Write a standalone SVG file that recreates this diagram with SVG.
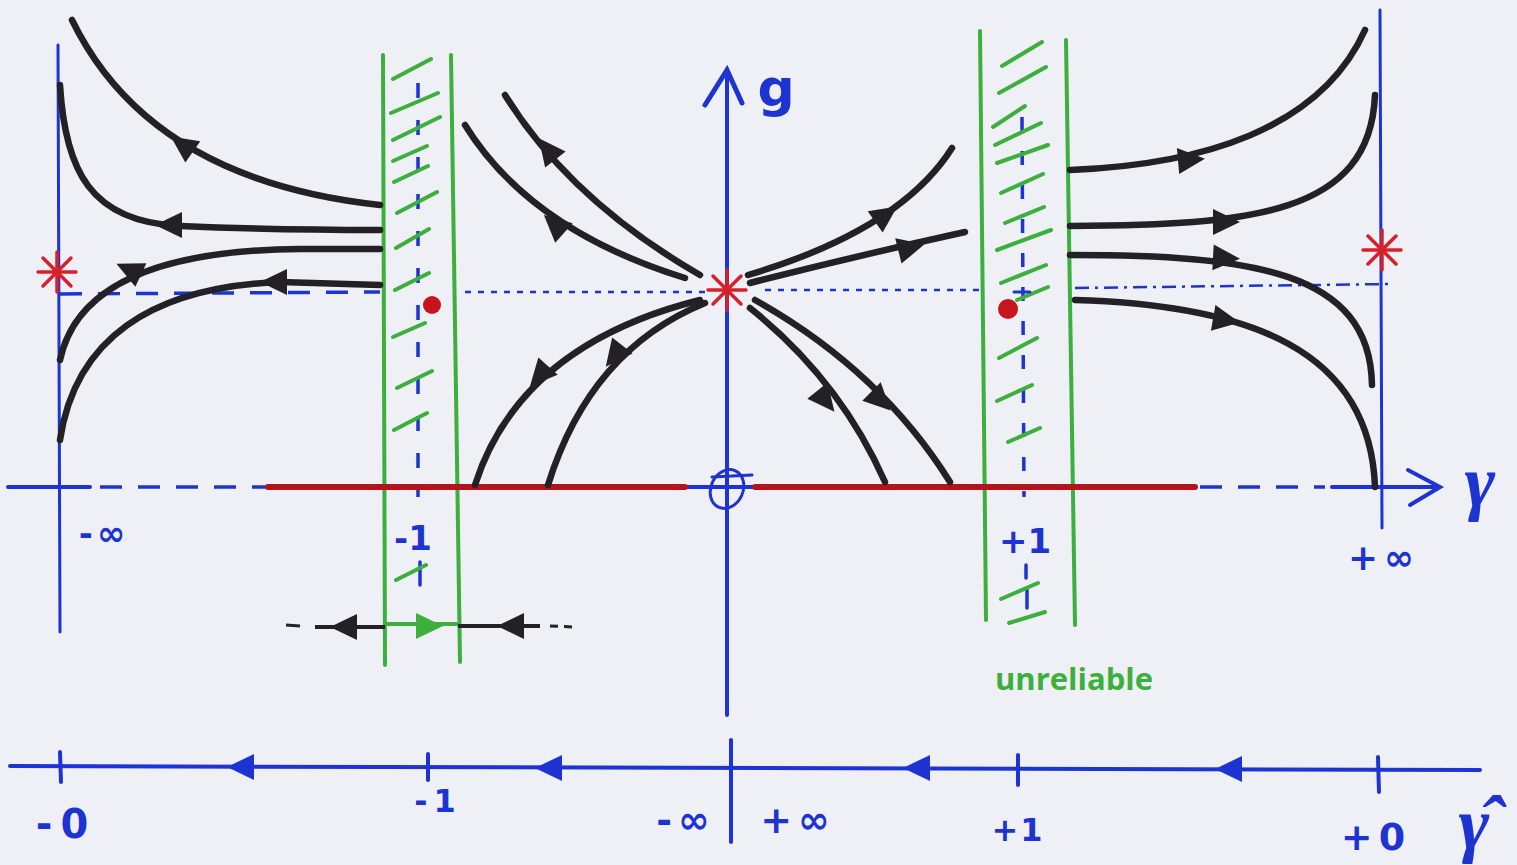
<svg xmlns="http://www.w3.org/2000/svg" xmlns:xlink="http://www.w3.org/1999/xlink" width="1517" height="865" viewBox="0 0 1517 865">
<style>
.bl{stroke:#1e34d2;fill:none;stroke-width:4;stroke-linecap:round}
.bld{stroke:#1e34d2;fill:none;stroke-width:3.5;stroke-dasharray:22 16}
.bls{stroke:#1e34d2;fill:none;stroke-width:2.5;stroke-dasharray:6 7}
.gr{stroke:#3caf3c;fill:none;stroke-width:4;stroke-linecap:round}
.gh{stroke:#3caf3c;fill:none;stroke-width:4;stroke-linecap:round}
.tr{stroke:#232026;fill:none;stroke-width:6.5;stroke-linecap:round}
.rd{stroke:#b3141c;fill:none;stroke-width:6;stroke-linecap:round}
.ast{stroke:#d8202a;stroke-width:3.5;stroke-linecap:round}
.t{font-family:"DejaVu Sans","Liberation Sans",sans-serif;font-weight:bold;fill:#1e34d2}
.gm{font-family:"Liberation Serif","DejaVu Serif",serif;font-style:italic;font-weight:bold;fill:#1e34d2}
.ab{fill:#232026}
.abl{fill:#1e34d2}
</style>
<defs>
<path id="ah" d="M15,0 L-12,-13 L-12,13 Z"/>
<g id="star">
<line class="ast" x1="-19" y1="0" x2="19" y2="0"/>
<line class="ast" x1="0" y1="-20" x2="0" y2="20"/>
<line class="ast" x1="-14" y1="-14" x2="14" y2="14"/>
<line class="ast" x1="-14" y1="14" x2="14" y2="-14"/>
</g>
</defs>
<rect width="1517" height="865" fill="#eef0f6"/>

<g id="axes">
<line class="bl" x1="8" y1="487" x2="90" y2="487"/>
<line class="bld" x1="100" y1="487" x2="270" y2="487"/>
<line class="bl" x1="685" y1="487" x2="755" y2="487"/>
<line class="bld" x1="1200" y1="487" x2="1325" y2="487"/>
<line class="bl" x1="1332" y1="487" x2="1438" y2="487"/>
<path class="bl" d="M1408,470 L1440,487 L1410,505"/>
<line class="bl" x1="727" y1="715" x2="727" y2="72"/>
<path class="bl" d="M705,105 L727,70 L742,103" style="stroke-width:5"/>
<line class="bl" x1="58" y1="45" x2="60" y2="632" style="stroke-width:3"/>
<line class="bl" x1="1380" y1="10" x2="1382" y2="528" style="stroke-width:3"/>
<ellipse class="bl" cx="727" cy="489" rx="16" ry="20" transform="rotate(25 727 489)" style="stroke-width:3"/>
<line class="bl" x1="712" y1="477" x2="752" y2="475" style="stroke-width:3"/>
<text class="t" x="776" y="106" font-size="52" font-weight="normal" text-anchor="middle">g</text>
<text class="gm" x="1480" y="506" font-size="74" text-anchor="middle">γ</text>
<text class="t" x="104" y="545" font-size="34" letter-spacing="4" text-anchor="middle">-∞</text>
<text class="t" x="1384" y="570" font-size="36" letter-spacing="6" text-anchor="middle">+∞</text>
<text class="t" x="413" y="550" font-size="34" text-anchor="middle">-1</text>
<text class="t" x="1025" y="553" font-size="34" text-anchor="middle">+1</text>
</g>

<g id="guides">
<line class="bld" x1="60" y1="294" x2="380" y2="292"/>
<line class="bls" x1="465" y1="292" x2="705" y2="292"/>
<line class="bls" x1="765" y1="290" x2="985" y2="290"/>
<line class="bls" x1="1075" y1="288" x2="1390" y2="284" style="stroke-dasharray:14 6 3 6"/>
<line class="bl" x1="418" y1="83" x2="418" y2="497" style="stroke-dasharray:15 22;stroke-width:3.5;stroke-linecap:butt"/>
<line class="bl" x1="420" y1="562" x2="420" y2="585" style="stroke-width:3.5"/>
<line class="bl" x1="1022" y1="117" x2="1024" y2="497" style="stroke-dasharray:14 20;stroke-width:3.5;stroke-linecap:butt"/>
<line class="bl" x1="1026" y1="565" x2="1026" y2="578" style="stroke-width:3.5"/>
<line class="bl" x1="1027" y1="590" x2="1027" y2="608" style="stroke-width:3.5"/>
</g>

<g id="strip-left">
<line class="gr" x1="383" y1="55" x2="385" y2="665"/>
<line class="gr" x1="451" y1="55" x2="460" y2="662"/>
<path class="gh" d="M393,79 L431,59 M391,113 L438,93 M393,140 L440,117 M393,161 L427,146 M394,182 L428,166 M397,213 L437,192 M396,248 L429,229 M395,290 L429,273 M393,337 L425,323 M397,388 L432,371 M394,430 L427,413 M396,580 L426,565"/>
</g>

<g id="strip-right">
<line class="gr" x1="980" y1="31" x2="986" y2="620"/>
<line class="gr" x1="1066" y1="40" x2="1075" y2="625"/>
<path class="gh" d="M1002,66 L1042,42 M999,93 L1046,67 M993,127 L1025,106 M995,145 L1041,123 M997,163 L1048,145 M1001,193 L1043,174 M1005,223 L1044,207 M997,250 L1051,230 M1001,283 L1046,265 M1017,300 L1048,287 M999,358 L1037,338 M997,401 L1032,385 M1008,442 L1040,428 M1001,599 L1038,583 M1009,623 L1045,612"/>
<line class="bl" x1="1014" y1="292" x2="1030" y2="292" style="stroke-width:3"/>
</g>

<g id="red-line">
<line class="rd" x1="268" y1="487" x2="685" y2="487"/>
<line class="rd" x1="755" y1="487" x2="1195" y2="487"/>
</g>

<g id="trajectories">
<path class="tr" d="M72,20 Q150,180 380,205"/>
<path class="tr" d="M60,85 C65,170 90,222 180,226 S330,230 380,230"/>
<path class="tr" d="M60,360 C75,290 150,250 300,249 L380,249"/>
<path class="tr" d="M60,440 C75,340 150,287 280,282 L380,285"/>
<path class="tr" d="M505,95 Q570,200 700,275"/>
<path class="tr" d="M465,125 Q530,230 685,278"/>
<path class="tr" d="M475,485 Q520,345 700,300"/>
<path class="tr" d="M548,485 Q590,350 705,303"/>
<path class="tr" d="M748,275 Q900,230 952,148"/>
<path class="tr" d="M750,283 Q860,255 965,232"/>
<path class="tr" d="M750,308 Q840,380 885,482"/>
<path class="tr" d="M755,300 Q880,370 950,482"/>
<path class="tr" d="M1070,170 C1200,165 1320,130 1365,30"/>
<path class="tr" d="M1070,226 C1250,225 1370,215 1375,95"/>
<path class="tr" d="M1070,255 C1250,255 1370,270 1372,385"/>
<path class="tr" d="M1075,300 C1250,305 1370,350 1375,487"/>
<g class="ab">
<use xlink:href="#ah" transform="translate(183,145) rotate(215)"/>
<use xlink:href="#ah" transform="translate(170,225) rotate(180)"/>
<use xlink:href="#ah" transform="translate(130,270) rotate(205)"/>
<use xlink:href="#ah" transform="translate(275,282) rotate(180)"/>
<use xlink:href="#ah" transform="translate(548,150) rotate(232)"/>
<use xlink:href="#ah" transform="translate(555,225) rotate(222)"/>
<use xlink:href="#ah" transform="translate(540,375) rotate(132)"/>
<use xlink:href="#ah" transform="translate(615,355) rotate(128)"/>
<use xlink:href="#ah" transform="translate(885,215) rotate(-35)"/>
<use xlink:href="#ah" transform="translate(910,248) rotate(-14)"/>
<use xlink:href="#ah" transform="translate(825,400) rotate(51)"/>
<use xlink:href="#ah" transform="translate(880,400) rotate(45)"/>
<use xlink:href="#ah" transform="translate(1190,160) rotate(-5)"/>
<use xlink:href="#ah" transform="translate(1225,222) rotate(0)"/>
<use xlink:href="#ah" transform="translate(1225,258) rotate(3)"/>
<use xlink:href="#ah" transform="translate(1225,320) rotate(10)"/>
</g>
</g>

<g id="fixed-points">
<use xlink:href="#star" transform="translate(57,272)"/>
<use xlink:href="#star" transform="translate(727,290)"/>
<use xlink:href="#star" transform="translate(1382,250)"/>
<circle cx="432" cy="305" r="9" fill="#c8141c"/>
<circle cx="1008" cy="309" r="10" fill="#c8141c"/>
</g>

<g id="mini-flow">
<line x1="286" y1="625" x2="300" y2="626" stroke="#232026" stroke-width="3"/>
<line x1="315" y1="627" x2="385" y2="627" stroke="#232026" stroke-width="4"/>
<line x1="385" y1="624" x2="458" y2="624" stroke="#3caf3c" stroke-width="4"/>
<line x1="458" y1="626" x2="540" y2="626" stroke="#232026" stroke-width="4"/>
<line x1="550" y1="626" x2="575" y2="627" stroke="#232026" stroke-width="3" stroke-dasharray="8 6"/>
<use xlink:href="#ah" transform="translate(345,627) rotate(180)" fill="#232026"/>
<use xlink:href="#ah" transform="translate(428,626)" fill="#3caf3c"/>
<use xlink:href="#ah" transform="translate(512,626) rotate(180)" fill="#232026"/>
</g>

<g id="label-unreliable">
<text x="1074" y="690" font-family="'Open Sans','Liberation Sans',sans-serif" font-weight="bold" font-size="31" fill="#3caf3c" text-anchor="middle">unreliable</text>
</g>

<g id="gamma-hat-axis">
<line class="bl" x1="10" y1="766" x2="1480" y2="770"/>
<line class="bl" x1="60" y1="752" x2="61" y2="782"/>
<line class="bl" x1="428" y1="754" x2="428" y2="780"/>
<line class="bl" x1="1018" y1="755" x2="1018" y2="785"/>
<line class="bl" x1="1378" y1="757" x2="1379" y2="792"/>
<line class="bl" x1="731" y1="740" x2="731" y2="842"/>
<g class="abl">
<use xlink:href="#ah" transform="translate(242,767) rotate(180)"/>
<use xlink:href="#ah" transform="translate(550,768) rotate(180)"/>
<use xlink:href="#ah" transform="translate(918,768) rotate(180)"/>
<use xlink:href="#ah" transform="translate(1230,769) rotate(180)"/>
</g>
<text class="t" x="66" y="838" font-size="40" letter-spacing="8" text-anchor="middle">-0</text>
<text class="t" x="438" y="812" font-size="32" letter-spacing="6" text-anchor="middle">-1</text>
<text class="t" x="686" y="833" font-size="38" letter-spacing="6" text-anchor="middle">-∞</text>
<text class="t" x="798" y="833" font-size="38" letter-spacing="6" text-anchor="middle">+∞</text>
<text class="t" x="1018" y="841" font-size="32" letter-spacing="2" text-anchor="middle">+1</text>
<text class="t" x="1376" y="850" font-size="38" letter-spacing="6" text-anchor="middle">+0</text>
<text class="gm" x="1474" y="848" font-size="74" text-anchor="middle">γ̂</text>
</g>
</svg>
